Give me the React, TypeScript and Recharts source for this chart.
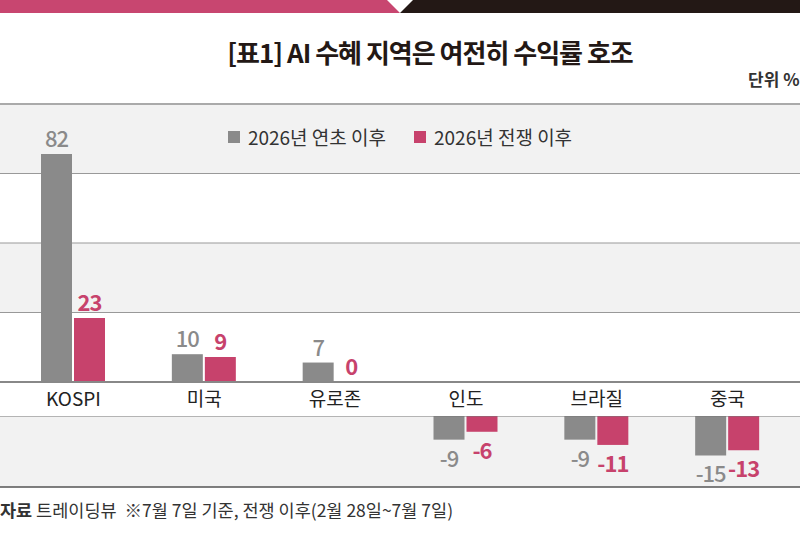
import { BarChart, Bar, XAxis, YAxis, CartesianGrid, ReferenceLine, Legend } from 'recharts'

const categories = ['KOSPI', '미국', '유로존', '인도', '브라질', '중국']
const sinceNewYear = [82, 10, 7, -9, -9, -15]
const sinceWar = [23, 9, 0, -6, -11, -13]
const upperTicks = [0, 25, 50, 75, 100]

const GRAY = '#8a8a8a'
const PINK = '#c7426c'
const FONT = '"Noto Sans CJK KR", "Noto Sans", sans-serif'

const upperData = categories.map((name, i) => ({
  name,
  ytd: sinceNewYear[i] >= 0 ? sinceNewYear[i] : null,
  war: sinceWar[i] >= 0 ? sinceWar[i] : null,
}))

const lowerData = categories.map((name, i) => ({
  name,
  ytd: sinceNewYear[i] < 0 ? sinceNewYear[i] : null,
  war: sinceWar[i] < 0 ? sinceWar[i] : null,
}))

// zero-height bars get dropped along with their label, keep a hairline so "0" still shows
const keepZero = (value: any) => (value === 0 ? 0.01 : 0)

const valueLabel = (color: string, weight: number) => (props: any) => {
  const { x, y, width, height, value } = props
  if (value === null || value === undefined) return null
  const cx = Number(x) + Number(width) / 2
  const h = Number(height) || 0
  const top = Math.min(Number(y), Number(y) + h)
  const bottom = Math.max(Number(y), Number(y) + h)
  const ty = value < 0 ? bottom + 17 : top - 17
  return (
    <text x={cx} y={ty} textAnchor="middle" dominantBaseline="central" fill={color}
      fontSize={22} fontWeight={weight} fontFamily={FONT} letterSpacing={-1}>
      {value}
    </text>
  )
}

const renderLegend = (props: any) => {
  const { payload } = props
  return (
    <div style={{ display: 'flex', justifyContent: 'center', gap: 28, fontFamily: FONT, fontSize: 19, color: '#333' }}>
      {payload.map((item: any) => (
        <div key={item.value} style={{ display: 'flex', alignItems: 'center', gap: 8 }}>
          <span style={{ width: 12, height: 12, background: item.color, display: 'inline-block' }} />
          <span>{item.value}</span>
        </div>
      ))}
    </div>
  )
}

const axisPadding = { left: 8, right: 7 }

export default function App() {
  return (
    <div style={{ position: 'absolute', left: 0, top: 0, width: 800, height: 534, background: '#fff', overflow: 'hidden', fontFamily: FONT }}>
      <svg width={800} height={14} style={{ position: 'absolute', left: 0, top: 0 }}>
        <polygon points="0,0 387,0 400,13 0,13" fill="#c84670" />
        <polygon points="413,0 800,0 800,13 400,13" fill="#231815" />
      </svg>

      <div style={{ position: 'absolute', left: 0, top: 33, width: 860, textAlign: 'center', fontSize: 26, fontWeight: 700, color: '#231815', letterSpacing: -1 }}>
        [표1] AI 수혜 지역은 여전히 수익률 호조
      </div>
      <div style={{ position: 'absolute', left: 748, top: 66, fontSize: 17, fontWeight: 700, color: '#333', whiteSpace: 'nowrap' }}>
        단위 %
      </div>

      <div style={{ position: 'absolute', left: 0, top: 90 }}>
        <BarChart width={800} height={326} data={upperData} margin={{ top: 14, right: 0, bottom: 0, left: 0 }}
          barSize={31} barGap={2}>
          <CartesianGrid vertical={false} stroke="#999" strokeWidth={1.2} horizontalFill={['#f2f2f2', '#ffffff']} />
          <XAxis dataKey="name" height={34} axisLine={false} tickLine={false} padding={axisPadding}
            tick={{ fontSize: 19, fill: '#222', fontFamily: FONT, dy: 3 }} interval={0} />
          <YAxis hide width={0} domain={[0, 100]} ticks={upperTicks} />
          <ReferenceLine y={100} stroke="#aaa" strokeWidth={2} />
          <ReferenceLine y={0} stroke="#888" strokeWidth={2} />
          <Legend layout="horizontal" verticalAlign="middle" align="center" content={renderLegend}
            wrapperStyle={{ top: 33, left: 0, width: 800 }} />
          <Bar dataKey="ytd" name="2026년 연초 이후" fill={GRAY} isAnimationActive={false}
            minPointSize={keepZero} label={valueLabel(GRAY, 500)} />
          <Bar dataKey="war" name="2026년 전쟁 이후" fill={PINK} isAnimationActive={false}
            minPointSize={keepZero} label={valueLabel(PINK, 700)} />
        </BarChart>
      </div>

      <div style={{ position: 'absolute', left: 0, top: 416 }}>
        <BarChart width={800} height={73} data={lowerData} margin={{ top: 0, right: 0, bottom: 2, left: 0 }}
          barSize={31} barGap={2}>
          <CartesianGrid vertical={false} horizontal={false} fill="#f2f2f2" />
          <XAxis dataKey="name" hide padding={axisPadding} />
          <YAxis hide width={0} domain={[-27, 0]} />
          <ReferenceLine y={0} stroke="#777" strokeWidth={1.2} />
          <ReferenceLine y={-27} stroke="#555" strokeWidth={1.5} />
          <Bar dataKey="ytd" fill={GRAY} isAnimationActive={false} label={valueLabel(GRAY, 500)} />
          <Bar dataKey="war" fill={PINK} isAnimationActive={false} label={valueLabel(PINK, 700)} />
        </BarChart>
      </div>

      <div style={{ position: 'absolute', left: 0, top: 497, fontSize: 17.5, color: '#333', whiteSpace: 'nowrap' }}>
        <b>자료</b> 트레이딩뷰&nbsp;&nbsp;※7월 7일 기준, 전쟁 이후(2월 28일~7월 7일)
      </div>
    </div>
  )
}
